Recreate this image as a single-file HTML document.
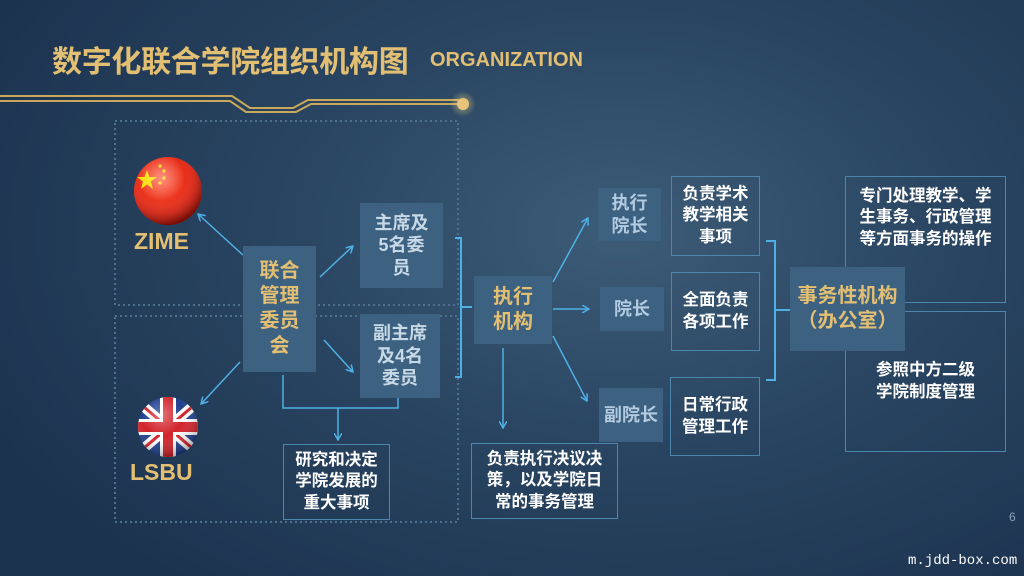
<!DOCTYPE html>
<html><head><meta charset="utf-8"><style>
*{margin:0;padding:0;box-sizing:border-box}
body{width:1024px;height:576px;overflow:hidden;position:relative;font-family:"Liberation Sans","Noto Sans CJK SC",sans-serif;
background:radial-gradient(ellipse 700px 450px at 620px 230px,#3d5c78 0%,#2a4662 45%,#1c3350 100%);}
.a{position:absolute}
.box{position:absolute;background:#3d6281;display:flex;align-items:center;justify-content:center;text-align:center;font-weight:bold;line-height:1.25}
.gold{color:#e2bf72;font-size:20px}
.lt{color:#c7d8e6;font-size:18px}
.bd{position:absolute;border:1.5px solid #4a86ad;display:flex;align-items:center;justify-content:center;text-align:center;color:#fff;font-weight:bold;font-size:16.5px;line-height:1.3}
</style></head><body>
<div class="a" style="left:52px;top:37px;font-size:30px;font-weight:bold;color:#e2bf72;letter-spacing:-0.3px">数字化联合学院组织机构图</div>
<div class="a" style="left:430px;top:49px;font-size:20px;font-weight:bold;color:#e2bf72">ORGANIZATION</div>
<svg class="a" style="left:0;top:0" width="1024" height="576">
<defs>
<marker id="m" markerWidth="8" markerHeight="8" refX="7" refY="4" orient="auto" markerUnits="userSpaceOnUse"><path d="M0,0 L7,4 L0,8" fill="none" stroke="#4fb0e6" stroke-width="1.5"/></marker>
<radialGradient id="g"><stop offset="0" stop-color="#f4d388" stop-opacity=".6"/><stop offset="1" stop-color="#f4d388" stop-opacity="0"/></radialGradient>
<radialGradient id="cn" cx=".4" cy=".35" r=".7"><stop offset="0" stop-color="#ff5a3c"/><stop offset=".7" stop-color="#e0200e"/><stop offset="1" stop-color="#a10f05"/></radialGradient>
<radialGradient id="sh" cx=".4" cy=".3" r=".7"><stop offset="0" stop-color="#fff" stop-opacity=".35"/><stop offset=".5" stop-color="#fff" stop-opacity="0"/><stop offset="1" stop-color="#000" stop-opacity=".3"/></radialGradient>
<clipPath id="uk"><circle cx="168" cy="427" r="30"/></clipPath>
</defs>
<g fill="none" stroke="#c9a85c" stroke-width="2">
<path d="M0,96 L232,96 L250,108 L293,108 L308,100 L460,100"/>
<path d="M0,101 L230,101 L246,112 L296,112 L311,104 L460,104"/>
</g>
<circle cx="463" cy="104" r="13" fill="url(#g)"/>
<circle cx="463" cy="104" r="6" fill="#e8c47a"/>
<g fill="none" stroke="#4e6f8e" stroke-width="2" stroke-dasharray="2,3">
<rect x="115" y="121" width="343" height="184"/>
<rect x="115" y="316" width="343" height="206"/>
</g>
<circle cx="168" cy="191" r="34" fill="url(#cn)"/>
<g fill="#ffde00"><polygon points="147,170 149.5,177 157,177 151,181.5 153,189 147,184.5 141,189 143,181.5 137,177 144.5,177"/>
<circle cx="160" cy="166" r="1.6"/><circle cx="164" cy="171" r="1.6"/><circle cx="164" cy="178" r="1.6"/><circle cx="160" cy="183" r="1.6"/></g>
<circle cx="168" cy="191" r="34" fill="url(#sh)"/>
<g clip-path="url(#uk)">
<rect x="130" y="390" width="80" height="80" fill="#1f3f8f"/>
<path d="M130,395 L206,460 M206,395 L130,460" stroke="#fff" stroke-width="10"/>
<path d="M130,395 L206,460 M206,395 L130,460" stroke="#d2232b" stroke-width="3"/>
<rect x="130" y="419" width="80" height="16" fill="#fff"/><rect x="160" y="390" width="16" height="80" fill="#fff"/>
<rect x="130" y="422" width="80" height="10" fill="#d2232b"/><rect x="163" y="390" width="10" height="80" fill="#d2232b"/>
</g>
<circle cx="168" cy="427" r="30" fill="url(#sh)"/>
<g fill="none" stroke="#4fb0e6" stroke-width="1.5">
<path d="M243,255 L198,214" marker-end="url(#m)"/>
<path d="M240,362 L201,404" marker-end="url(#m)"/>
<path d="M320,277 L353,246" marker-end="url(#m)"/>
<path d="M324,340 L353,372" marker-end="url(#m)"/>
<path d="M283,375 L283,408 L398,408 L398,398"/>
<path d="M338,408 L338,440" marker-end="url(#m)"/>
<path d="M455,238 L461,238 L461,377 L455,377 M461,307 L472,307" stroke-width="2"/>
<path d="M553,282 L588,218" marker-end="url(#m)"/>
<path d="M553,309 L589,309" marker-end="url(#m)"/>
<path d="M553,336 L587,401" marker-end="url(#m)"/>
<path d="M503,348 L503,428" marker-end="url(#m)"/>
<path d="M766,241 L775,241 L775,380 L766,380 M775,310 L790,310" stroke-width="2"/>
</g>
</svg>
<div class="a" style="left:134px;top:228px;font-size:23px;font-weight:bold;color:#e2bf72">ZIME</div>
<div class="a" style="left:130px;top:459px;font-size:23px;font-weight:bold;color:#e2bf72">LSBU</div>
<div class="box gold" style="left:243px;top:246px;width:73px;height:126px">联合<br>管理<br>委员<br>会</div>
<div class="box lt" style="left:360px;top:203px;width:83px;height:85px">主席及<br>5名委<br>员</div>
<div class="box lt" style="left:360px;top:314px;width:80px;height:84px">副主席<br>及4名<br>委员</div>
<div class="bd" style="left:283px;top:444px;width:107px;height:76px">研究和决定<br>学院发展的<br>重大事项</div>
<div class="box gold" style="left:474px;top:276px;width:78px;height:68px">执行<br>机构</div>
<div class="bd" style="left:471px;top:443px;width:147px;height:76px">负责执行决议决<br>策，以及学院日<br>常的事务管理</div>
<div class="bd" style="left:671px;top:176px;width:89px;height:80px">负责学术<br>教学相关<br>事项</div>
<div class="bd" style="left:671px;top:272px;width:89px;height:79px">全面负责<br>各项工作</div>
<div class="bd" style="left:670px;top:377px;width:90px;height:79px">日常行政<br>管理工作</div>
<div class="box lt" style="left:598px;top:188px;width:63px;height:53px;color:#b3cbe0">执行<br>院长</div>
<div class="box lt" style="left:600px;top:287px;width:64px;height:44px;color:#b3cbe0">院长</div>
<div class="box lt" style="left:599px;top:388px;width:64px;height:54px;color:#b3cbe0">副院长</div>
<div class="bd" style="left:845px;top:176px;width:161px;height:127px;align-items:flex-start;padding-top:9px">专门处理教学、学<br>生事务、行政管理<br>等方面事务的操作</div>
<div class="bd" style="left:845px;top:311px;width:161px;height:141px">参照中方二级<br>学院制度管理</div>
<div class="box gold" style="left:790px;top:267px;width:115px;height:84px">事务性机构<br>（办公室）</div>
<div class="a" style="left:1009px;top:510px;font-size:12px;color:#8aa0b5">6</div>
<div class="a" style="left:908px;top:553px;font-size:14px;color:#fff;font-family:'Liberation Mono',monospace">m.jdd-box.com</div>
</body></html>
